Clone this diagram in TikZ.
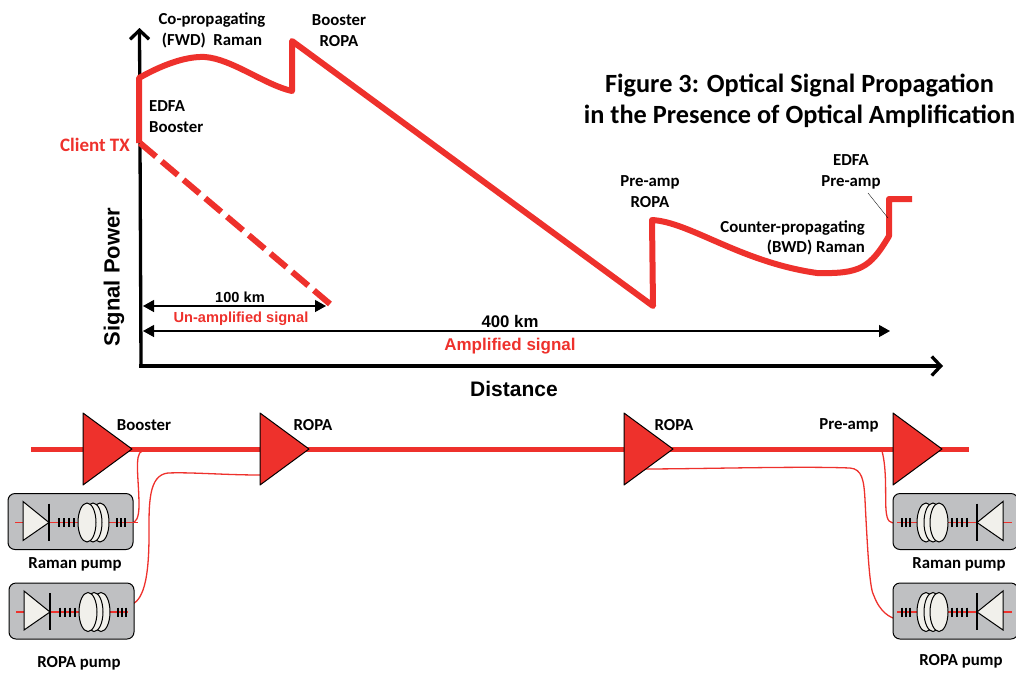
\documentclass[tikz,border=0pt]{standalone}
\usepackage{fontspec}
\setmainfont{Carlito}
\newfontfamily\arialf{Liberation Sans}
\usetikzlibrary{arrows.meta}
\definecolor{rd}{HTML}{EE312C}
\definecolor{boxg}{HTML}{BFC0C2}
\definecolor{lens}{HTML}{F1F0EB}
\tikzset{x=1pt,y=-1pt,
 sig/.style={rd,line width=6pt,line join=round},
 amp/.style={draw=black,fill=rd,line width=1pt,line join=round},
 lbl/.style={font=\bfseries\fontsize{16.8}{20.5}\selectfont,align=center,inner sep=0pt},
 rlbl/.style={lbl,text=rd},
 axisl/.style={black,line width=3.3pt,-{Straight Barb[length=9pt,width=19pt,line width=3.3pt]}},
 dim/.style={black,line width=1.3pt,{Triangle[length=11pt,width=12pt]}-{Triangle[length=11pt,width=12pt]}},
 thinred/.style={rd,line width=1.3pt},
 pbox/.style={draw=black,fill=boxg,rounded corners=7pt,line width=1pt},
 ticks/.style={black,line width=1.6pt},
 optic/.style={draw=black,fill=lens,line width=1pt},
 plbl/.style={lbl,font=\bfseries\fontsize{16.8}{20}\selectfont}}
\newcommand{\pumpL}[2]{%
 \begin{scope}[shift={#1}]
 \draw[pbox] (0,0) rectangle (125,56);
 \draw[thinred] (7,29) -- (#2,29);
 \draw[optic] (15,8) -- (15,47) -- (41,29) -- cycle;
 \draw[black,line width=1.5pt] (41,10) -- (41,47);
 \foreach \xx in {51,56,61,66} \draw[ticks] (\xx,24.5) -- (\xx,33.5);
 \draw[optic] (92,29) ellipse (9 and 19.5);
 \draw[optic] (85,29) ellipse (9 and 19.5);
 \draw[optic] (79,29) ellipse (9 and 19.5);
 \foreach \xx in {109,113,117} \draw[ticks] (\xx,24.5) -- (\xx,33.5);
 \end{scope}}
\newcommand{\pumpR}[1]{%
 \begin{scope}[shift={#1}]
 \draw[pbox] (0,0) rectangle (125,56);
 \draw[thinred] (4,29) -- (119,29);
 \draw[optic] (110,8) -- (110,47) -- (84,29) -- cycle;
 \draw[black,line width=1.5pt] (84,10) -- (84,47);
 \foreach \xx in {59,64,69,74} \draw[ticks] (\xx,24.5) -- (\xx,33.5);
 \draw[optic] (33,29) ellipse (9 and 19.5);
 \draw[optic] (40,29) ellipse (9 and 19.5);
 \draw[optic] (46,29) ellipse (9 and 19.5);
 \foreach \xx in {9,13,17} \draw[ticks] (\xx,24.5) -- (\xx,33.5);
 \end{scope}}
\begin{document}
\begin{tikzpicture}
\useasboundingbox (0,0) rectangle (1016,673);
% axes
\coordinate (o) at (141,366);
\coordinate (ytop) at (139.5,28);
\coordinate (xend) at (943,366);
\draw[axisl] (o) -- (ytop);
\draw[axisl] (139.4,366) -- (xend);
% signal
\draw[sig] (139,143) -- (139,78) .. controls (160,66) and (185,56) .. (205,57)
 .. controls (232,59) and (265,85) .. (292,91) -- (292,41) -- (653,306) -- (652,220)
 .. controls (690,222) and (740,262) .. (817,273) .. controls (860,274) and (870,268) .. (889,236)
 -- (889,199) -- (912,199);
\draw[rd,line width=6pt,dash pattern=on 21pt off 7.5pt] (140,143) -- (330,304);
\draw[black,line width=.35pt] (868,193) -- (888,218);
% dims
\coordinate (d1a) at (143,306); \coordinate (d1b) at (326,306);
\coordinate (d2a) at (143,331); \coordinate (d2b) at (890,331);
\draw[dim] (d1a) -- (d1b);
\draw[dim] (d2a) -- (d2b);
% texts
\node[lbl] (t1) at (212,30.5) {Co-propagating\\(FWD)\ \ Raman};
\node[lbl] (t2) at (339,30.5) {Booster\\ROPA};
\node[lbl,align=left,anchor=west] (t3) at (149,116.5) {EDFA\\Booster};
\node[rlbl,font=\bfseries\fontsize{19}{22}\selectfont] (t4) at (95,145) {Client TX};
\node[lbl] (t5) at (650,191.5) {Pre-amp\\ROPA};
\node[lbl] (t6) at (851,172) {EDFA\\Pre-amp};
\node[lbl,align=right,anchor=east] (t7) at (865,238) {Counter-propagating\\(BWD) Raman};
\node[lbl,font=\arialf\bfseries\fontsize{14.6}{16}\selectfont] (t8) at (240,297) {100 km};
\node[rlbl,font=\arialf\bfseries\fontsize{14.6}{16}\selectfont] (t9) at (241,319) {Un-amplified signal};
\node[lbl,font=\arialf\bfseries\fontsize{16.8}{19}\selectfont] (t10) at (510,321) {400 km};
\node[rlbl,font=\arialf\bfseries\fontsize{17}{19}\selectfont] (t11) at (510,346) {Amplified signal};
\node[lbl,font=\arialf\bfseries\fontsize{21}{24}\selectfont] (t12) at (514,389) {Distance};
\node[lbl,font=\arialf\bfseries\fontsize{22}{24}\selectfont,rotate=90] (t13) at (114,277) {Signal Power};
\node[lbl,font=\bfseries\fontsize{26.3}{31}\selectfont] (t14) at (799.5,100.5) {Figure 3: Optical Signal Propagation\\in the Presence of Optical Amplification};
% lower chain
\coordinate (l0) at (31,449); \coordinate (l1) at (969,449);
\draw[rd,line width=5pt] (l0) -- (l1);
% raman / ropa thin lines
\draw[thinred] (142,451) .. controls (134,454) and (139,480) .. (139,505) .. controls (139,518) and (136,523) .. (131,523);
\draw[thinred] (260,475) .. controls (225,475) and (190,472) .. (168,473) .. controls (148,475) and (149,505) .. (149,535) .. controls (149,590) and (140,603) .. (128,606);
\draw[thinred] (640,469) .. controls (700,469) and (800,466) .. (850,468) .. controls (862,469) and (864,480) .. (865,500) .. controls (868,560) and (870,590) .. (874,596) .. controls (880,612) and (890,618) .. (897,619);
\draw[thinred] (882,451) .. controls (887,470) and (885,495) .. (886,510) .. controls (887,522) and (890,523) .. (896,523);
% pumps
\pumpL{(8,493.5)}{130}
\pumpL{(9,583)}{119}
\pumpR{(893,493.5)}
\pumpR{(893,583)}
% amps
\foreach \xx in {83,260,624,893} {\draw[amp] (\xx,413) -- (\xx,485) -- (\xx+49,449) -- cycle;}
\node[plbl] (a1) at (144,425) {Booster};
\node[plbl] (a2) at (313,425) {ROPA};
\node[plbl] (a3) at (674,425) {ROPA};
\node[plbl] (a4) at (849,425) {Pre-amp};
\node[plbl] (p1) at (75,564.5) {Raman pump};
\node[plbl] (p2) at (79,663) {ROPA pump};
\node[plbl] (p3) at (959,564.5) {Raman pump};
\node[plbl] (p4) at (961,661) {ROPA pump};
\end{tikzpicture}
\end{document}
